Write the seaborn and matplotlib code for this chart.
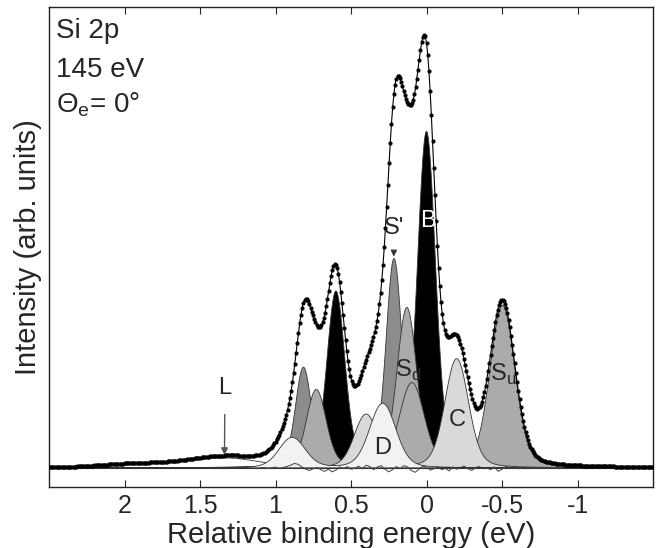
import numpy as np
import matplotlib
matplotlib.use('Agg')
import matplotlib.pyplot as plt
import seaborn as sns

# Componentes do ajuste (dupletos spin-órbita Si 2p3/2 + 2p1/2)
# ordem = ordem de desenho (de trás para frente)
comp_names = ['L', 'B', "S'", 'Sd', 'Su', 'C', 'D']
comp_pos = [1.34, 0.0, 0.215, 0.13, -0.503, -0.2, 0.29]        # eV (2p3/2)
comp_height = [2.2, 75.5, 47.0, 36.0, 36.5, 24.5, 14.5]       # altura 2p3/2
comp_height_so = [0.8, 39.5, 22.5, 17.5, 19.0, 12.0, 6.8]    # altura 2p1/2
comp_gauss_fwhm = [0.55, 0.116, 0.100, 0.13, 0.17, 0.16, 0.18]
so_split = 0.60     # desdobramento spin-órbita (eV)
lor_fwhm = 0.045    # largura lorentziana comum

# Resíduo, de 1.1 eV até -0.9 eV em passos de 0.025
resid_start, resid_stop = 1.1, -0.9
resid_values = [0.0, 0.1, -0.1, 0.0, 0.2, -0.2, 0.1, 0.3, 0.6, 1.0,
                0.8, 0.2, -0.3, -0.6, -0.2, 0.1, -0.4, -0.8, -0.3, -0.9,
                -0.5, 0.2, -0.2, 0.3, -0.3, -0.1, 0.4, -0.2, 0.6, 0.3,
                -0.4, 0.2, 0.5, -0.3, -0.9, -0.4, 0.3, -0.2, 0.5, 0.2,
                -0.6, -1.0, -0.3, 0.4, 0.2, -0.5, -0.2, 0.3, -0.4, -0.1,
                -0.7, 0.2, -0.3, 0.1, 0.4, -0.2, -0.6, 0.1, 0.3, -0.2,
                0.0, -0.4, 0.2, -0.8, -0.3, 0.3, 0.1, -0.2, 0.1, 0.0,
                -0.2, 0.1, 0.0, -0.1, 0.1, 0.0, -0.1, 0.0, 0.1, 0.0,
                0.0]

xticks = [2, 1.5, 1, 0.5, 0, -0.5, -1]
xticklabels = ['2', '1.5', '1', '0.5', '0', '-0.5', '-1']

comp_colors = {'L': 'white', 'B': 'black', "S'": '#8c8c8c', 'Sd': '#ababab',
               'Su': '#ababab', 'C': '#d9d9d9', 'D': '#f2f2f2'}

# Perfis de Voigt (gaussiana convoluída com lorentziana)
step = 0.002
E = np.arange(-1.8, 2.8 + step / 2, step)
kx = np.arange(-1000, 1001) * step
gam = lor_fwhm / 2
lor = gam / (kx ** 2 + gam ** 2)
lor = lor / lor.sum()


def voigt(center, gfwhm):
    g = np.exp(-4 * np.log(2) * (E - center) ** 2 / gfwhm ** 2)
    v = np.convolve(g, lor, mode='same')
    return v / v.max()


curves = {}
for name, pos, h1, h2, w in zip(comp_names, comp_pos, comp_height, comp_height_so, comp_gauss_fwhm):
    curves[name] = h1 * voigt(pos, w) + h2 * voigt(pos + so_split, w)
total = sum(curves.values())

# pontos medidos (a cada 0.008 eV)
sel = (E >= -1.52) & (E <= 2.52)
E_dots = E[sel][::4]
tot_dots = total[sel][::4]

resid_E = np.linspace(resid_start, resid_stop, len(resid_values))

sns.set_style('ticks')
plt.rcParams['font.family'] = ['Liberation Sans', 'DejaVu Sans']
plt.rcParams['mathtext.fontset'] = 'custom'
plt.rcParams['mathtext.rm'] = 'Liberation Sans'
plt.rcParams['axes.unicode_minus'] = False

fig, ax = plt.subplots(figsize=(6.58, 5.48), dpi=100)
fig.subplots_adjust(left=0.0745, right=0.9924, bottom=0.1113, top=0.9872)

for i, name in enumerate(comp_names):
    ax.fill_between(E, 0, curves[name], facecolor=comp_colors[name],
                    edgecolor='#333333', linewidth=0.6, zorder=2 + i)

ax.axhline(0, color='#333333', lw=0.8, zorder=10)
sns.lineplot(x=resid_E, y=resid_values, color='#444444', lw=0.7, ax=ax, zorder=11)
sns.lineplot(x=E_dots, y=tot_dots, color='black', lw=0.8, marker='o',
             markersize=3, markeredgewidth=0, ax=ax, zorder=12)

# Rótulos dos componentes
ax.text(-0.007, 55.4, 'B', color='white', fontsize=17, ha='center', va='center', zorder=20)
ax.text(0.124, 22.0, r'S$_\mathrm{d}$', fontsize=17, ha='center', va='center', zorder=20)
ax.text(-0.51, 21.0, r'S$_\mathrm{u}$', fontsize=17, ha='center', va='center', zorder=20)
ax.text(-0.205, 10.8, 'C', fontsize=17, ha='center', va='center', zorder=20)
ax.text(0.29, 4.5, 'D', fontsize=17, ha='center', va='center', zorder=20)
ax.annotate("S'", xy=(0.217, 47.5), xytext=(0.212, 54.0), fontsize=17,
            ha='center', va='center', zorder=20,
            arrowprops=dict(arrowstyle='-|>', color='#333333', lw=0.9,
                            mutation_scale=9, shrinkA=8, shrinkB=0))
ax.annotate('L', xy=(1.338, 2.9), xytext=(1.335, 18.0), fontsize=17,
            ha='center', va='center', zorder=20,
            arrowprops=dict(arrowstyle='-|>', color='#555555', lw=1.0,
                            mutation_scale=10, shrinkA=9, shrinkB=0))

ax.text(0.012, 0.935, 'Si 2p', transform=ax.transAxes, fontsize=20, va='baseline')
ax.text(0.012, 0.854, '145 eV', transform=ax.transAxes, fontsize=20, va='baseline')
ax.text(0.012, 0.781, r'Θ$_\mathrm{e}$= 0°', transform=ax.transAxes, fontsize=20, va='baseline')

ax.set_xlim(2.5, -1.5)
ax.set_ylim(-4.3, 103.6)
ax.set_yticks([])
ax.set_xticks(xticks, xticklabels)
ax.tick_params(axis='x', direction='in', top=True, bottom=True, length=5,
               width=0.8, labelsize=18, pad=5)
for sp in ax.spines.values():
    sp.set_visible(True)
    sp.set_linewidth(1.0)
    sp.set_color('#222222')
ax.set_xlabel('Relative binding energy (eV)', fontsize=21, labelpad=2)
ax.set_ylabel('Intensity (arb. units)', fontsize=21, labelpad=5)

plt.savefig('out.png', dpi=100)
